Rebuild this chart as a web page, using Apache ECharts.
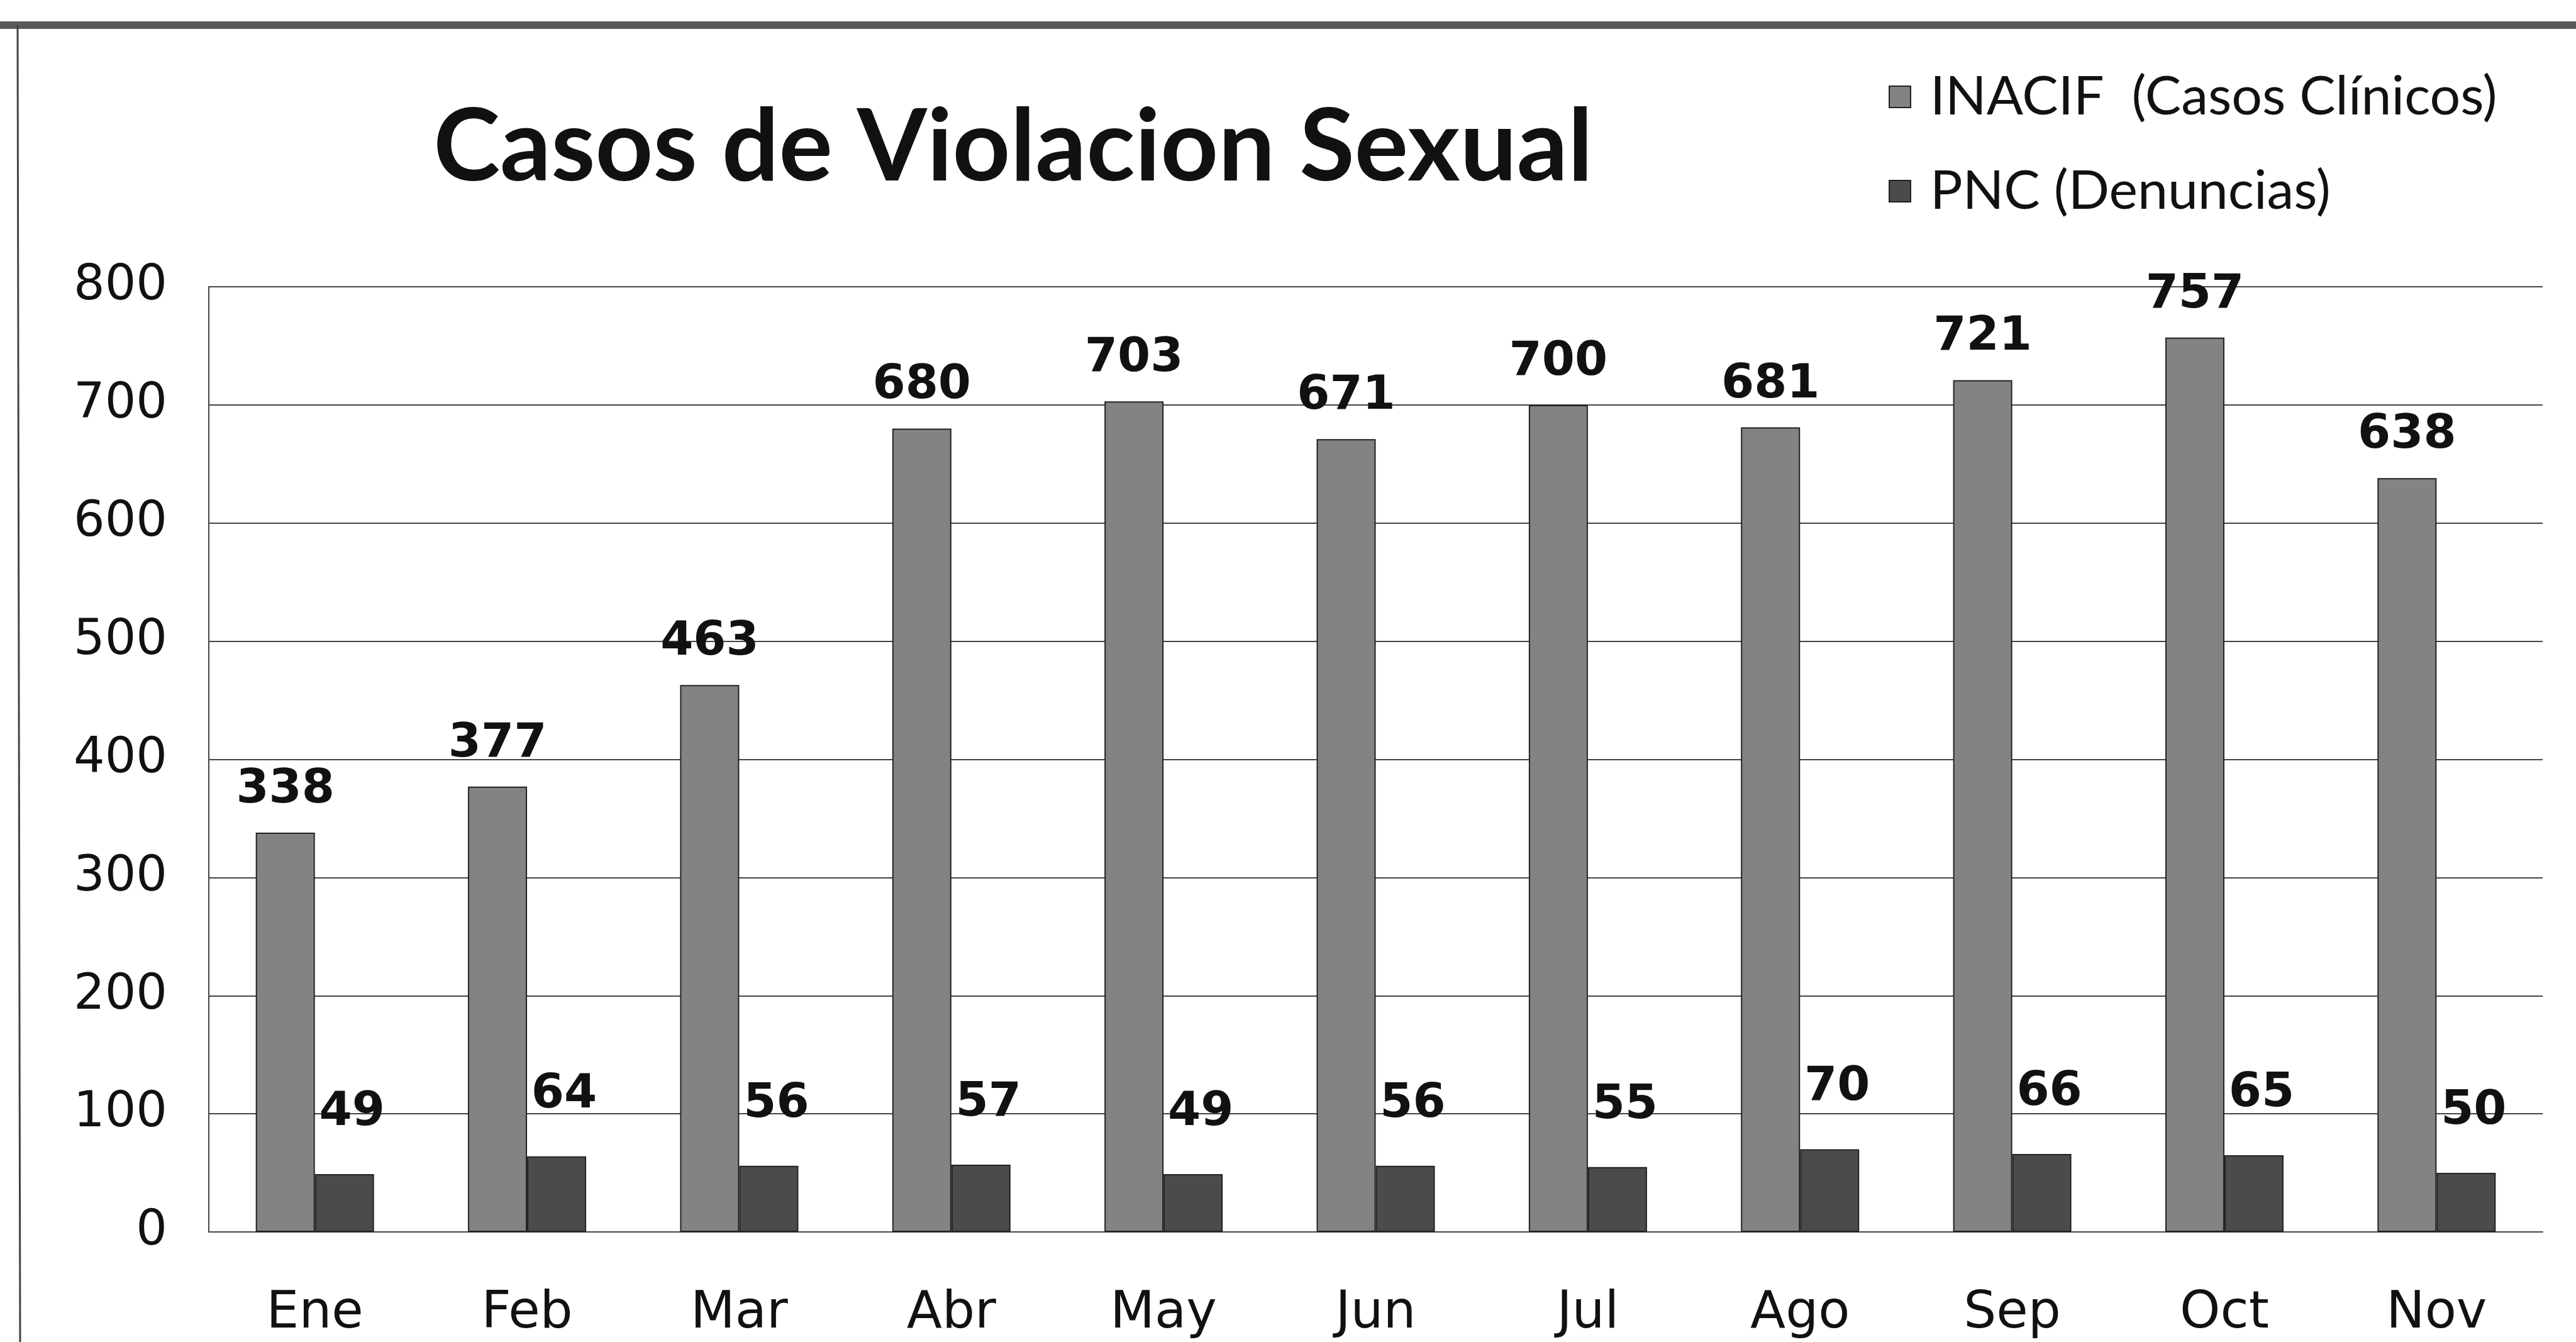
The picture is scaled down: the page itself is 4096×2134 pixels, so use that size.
<!DOCTYPE html>
<html>
<head>
  <meta charset="utf-8" />
  <title>Casos de Violacion Sexual</title>
  <script src="https://cdn.jsdelivr.net/npm/echarts@6/dist/echarts.min.js"></script>
  <style>
    html, body { margin: 0; padding: 0; background: #ffffff; }
    #chart { width: 4096px; height: 2134px; }
  </style>
</head>
<body>
  <div id="chart"></div>
  <script>
    // meses y valores
    const months = ['Ene', 'Feb', 'Mar', 'Abr', 'May', 'Jun', 'Jul', 'Ago', 'Sep', 'Oct', 'Nov'];
    const inacif = [338, 377, 463, 680, 703, 671, 700, 681, 721, 757, 638];
    const pnc = [49, 64, 56, 57, 49, 56, 55, 70, 66, 65, 50];
    const seriesNames = ['INACIF  (Casos Clínicos)', 'PNC (Denuncias)'];

    const chart = echarts.init(document.getElementById('chart'));

    const labelStyle = {
      show: true,
      position: 'top',
      fontFamily: 'DejaVu Sans',
      fontWeight: 'bold',
      fontSize: 75,
      color: '#111'
    };

    chart.setOption({
      backgroundColor: '#ffffff',
      animation: false,
      title: {
        text: 'Casos de Violacion Sexual',
        left: 1606,
        top: 150,
        textAlign: 'center',
        textStyle: {
          fontFamily: 'Lato',
          fontWeight: 'bold',
          fontSize: 160,
          color: '#111',
          lineHeight: 160
        }
      },
      legend: {
        orient: 'vertical',
        left: 2998,
        top: 106,
        itemWidth: 34,
        itemHeight: 34,
        itemGap: 64,
        icon: 'rect',
        data: seriesNames,
        textStyle: {
          fontFamily: 'Lato',
          fontSize: 86,
          lineHeight: 86,
          color: '#111',
          padding: [0, 0, 0, 26]
        }
      },
      grid: { left: 332, right: 53, top: 456, bottom: 175 },
      xAxis: {
        type: 'category',
        data: months,
        axisTick: { show: false },
        axisLine: { lineStyle: { color: '#444', width: 2 } },
        axisLabel: {
          fontFamily: 'DejaVu Sans',
          fontSize: 82,
          color: '#111',
          margin: 90
        }
      },
      yAxis: {
        type: 'value',
        min: 0,
        max: 800,
        interval: 100,
        axisLine: { show: true, lineStyle: { color: '#444', width: 2 } },
        axisTick: { show: false },
        splitLine: { lineStyle: { color: '#444', width: 2 } },
        axisLabel: {
          fontFamily: 'DejaVu Sans',
          fontSize: 78,
          color: '#111',
          margin: 66
        }
      },
      graphic: [
        {
          type: 'rect',
          shape: { x: 0, y: 34, width: 4096, height: 12 },
          style: { fill: '#5a5a5a' }
        },
        {
          type: 'line',
          shape: { x1: 28, y1: 40, x2: 32, y2: 2134 },
          style: { stroke: '#444', lineWidth: 3 }
        }
      ],
      series: [
        {
          name: seriesNames[0],
          type: 'bar',
          data: inacif,
          barWidth: 94,
          barGap: '0%',
          itemStyle: { color: '#838383', borderColor: '#222', borderWidth: 2 },
          label: Object.assign({}, labelStyle, { distance: 30 })
        },
        {
          name: seriesNames[1],
          type: 'bar',
          data: pnc,
          barWidth: 94,
          barGap: '0%',
          itemStyle: { color: '#4b4b4b', borderColor: '#222', borderWidth: 2 },
          label: Object.assign({}, labelStyle, { distance: 60, offset: [12, 0] })
        }
      ]
    });
  </script>
</body>
</html>
